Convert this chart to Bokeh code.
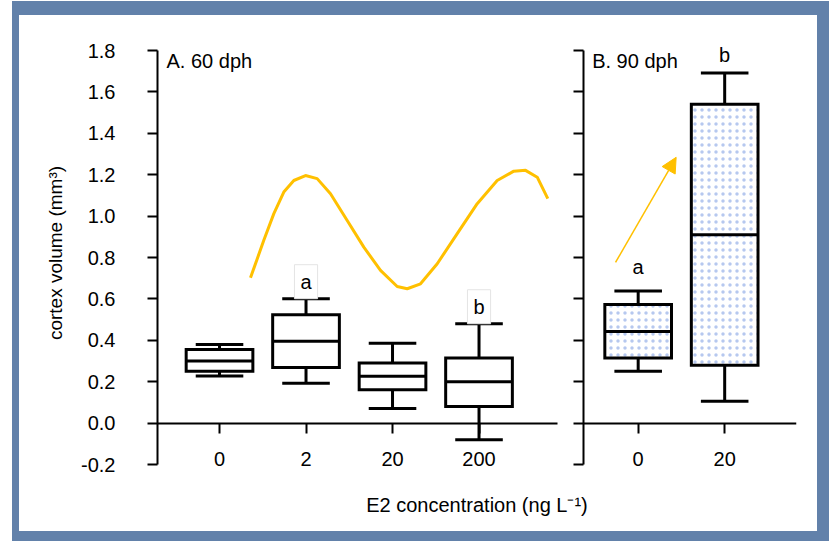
from bokeh.plotting import figure
from bokeh.models import (Range1d, LinearAxis, FixedTicker, PrintfTickFormatter,
                          Label, Arrow, NormalHead)
from bokeh.embed import file_html
from bokeh.resources import INLINE

# ---------------- data ----------------
groups_A = ["0", "2", "20", "200"]
wlo_A = [0.227, 0.193, 0.07, -0.08]
q1_A = [0.25, 0.268, 0.161, 0.08]
med_A = [0.30, 0.395, 0.226, 0.20]
q3_A = [0.355, 0.524, 0.29, 0.314]
whi_A = [0.38, 0.601, 0.386, 0.48]
letters_A = ["", "a", "", "b"]

groups_B = ["0", "20"]
wlo_B = [0.251, 0.105]
q1_B = [0.314, 0.279]
med_B = [0.443, 0.91]
q3_B = [0.573, 1.54]
whi_B = [0.638, 1.691]
letters_B = ["a", "b"]

y_ticks = [-0.2, 0.0, 0.2, 0.4, 0.6, 0.8, 1.0, 1.2, 1.4, 1.6, 1.8]
panel_titles = ["A. 60 dph", "B. 90 dph"]
y_label = "cortex volume (mm³)"
x_label = "E2 concentration (ng L⁻¹)"

# decorative wave (panel A category units, mm3)
wave_x = [1.358, 1.512, 1.628, 1.743, 1.859, 1.994, 2.129, 2.283, 2.476, 2.668,
          2.861, 3.054, 3.170, 3.324, 3.517, 3.748, 3.979, 4.210, 4.402, 4.538,
          4.673, 4.795]
wave_y = [0.702, 0.883, 1.012, 1.116, 1.172, 1.196, 1.181, 1.108, 0.979, 0.850,
          0.738, 0.660, 0.649, 0.673, 0.770, 0.915, 1.060, 1.172, 1.217, 1.221,
          1.188, 1.084]
# decorative arrow (panel B category units, mm3)
arrow_x = [0.738, 1.439]
arrow_y = [0.776, 1.284]

# ---------------- layout ----------------
FONT = "Liberation Sans"
ORANGE = "#FFC000"
FRAME_BLUE = "#6281AA"

B_OFF = 4.84
pos_A = [i + 1 for i in range(len(groups_A))]
pos_B = [round(i + 1 + B_OFF, 2) for i in range(len(groups_B))]
x_start = 0.283
A_end = 4.902
B_axis = round(pos_B[0] - 0.636, 3)

W, H = 798, 516
ML, MR, MT, MB = 138, 21, 16, 57
px_per_unit = 86.5
py_per_unit = 207.0
x_end = x_start + (W - ML - MR) / px_per_unit
y_lo, y_hi = -0.2, 1.8
y_start = y_lo - 10 / py_per_unit
y_end = y_lo + (H - MT - MB) / py_per_unit - 10 / py_per_unit

shadow = ", ".join(f"{ox}px {oy}px 0 7px {FRAME_BLUE}"
                   for ox, oy in [(0, -7), (5, -7), (0, 3), (5, 3)])

p = figure(width=W, height=H, x_axis_type=None, y_axis_type=None,
           x_range=Range1d(x_start, x_end), y_range=Range1d(y_start, y_end),
           toolbar_location=None, output_backend="svg",
           min_border_left=ML, min_border_right=MR, min_border_top=MT, min_border_bottom=MB,
           background_fill_color="white", border_fill_color="white",
           outline_line_color=None,
           styles={"margin-left": "19px", "margin-top": "15px", "box-shadow": shadow})


def style_axis(ax):
    ax.axis_line_width = 2
    ax.axis_line_color = "black"
    ax.major_tick_line_width = 2
    ax.major_tick_line_color = "black"
    ax.major_tick_out = 10
    ax.major_tick_in = 0
    ax.minor_tick_line_color = None
    ax.major_label_text_font = FONT
    ax.major_label_text_font_size = "20px"
    ax.major_label_text_color = "black"
    ax.axis_label_text_font = FONT
    ax.axis_label_text_font_size = "19px"
    ax.axis_label_text_font_style = "normal"
    ax.axis_label_text_color = "black"


yA = LinearAxis(ticker=FixedTicker(ticks=y_ticks), formatter=PrintfTickFormatter(format="%.1f"),
                axis_label=y_label, bounds=(y_lo, y_hi))
style_axis(yA)
yA.major_label_standoff = 32
yA.axis_label_standoff = 12
p.add_layout(yA, "left")

yB = LinearAxis(ticker=FixedTicker(ticks=y_ticks), bounds=(y_lo, y_hi), fixed_location=B_axis)
style_axis(yB)
yB.major_label_text_color = None
p.add_layout(yB, "left")

xA = LinearAxis(ticker=FixedTicker(ticks=pos_A),
                major_label_overrides={k: g for k, g in zip(pos_A, groups_A)},
                fixed_location=0, bounds=(x_start, A_end))
style_axis(xA)
xA.major_label_standoff = 19
p.add_layout(xA, "below")

xB = LinearAxis(ticker=FixedTicker(ticks=pos_B),
                major_label_overrides={k: g for k, g in zip(pos_B, groups_B)},
                fixed_location=0, bounds=(B_axis, x_end))
style_axis(xB)
xB.major_label_standoff = 19
p.add_layout(xB, "below")

# shared x-axis title under both panels
xL = LinearAxis(ticker=FixedTicker(ticks=[]), axis_label=x_label)
style_axis(xL)
xL.axis_label_text_font_size = "20px"
xL.axis_line_color = None
xL.major_tick_line_color = None
xL.major_tick_out = 0
xL.major_label_standoff = 0
xL.axis_label_standoff = 19
p.add_layout(xL, "below")

BOX_W = 0.771
CAP_W = 0.55


def draw_boxes(pos, wlo, q1, med, q3, whi, hatch):
    kw = dict(fill_color="white", line_color="black", line_width=3, line_join="miter")
    if hatch:
        kw.update(hatch_pattern="dot", hatch_color="#3E6FD6", hatch_scale=7,
                  hatch_weight=1.0, hatch_alpha=0.38)
    p.segment(x0=pos, x1=pos, y0=q3, y1=whi, line_color="black", line_width=3)
    p.segment(x0=pos, x1=pos, y0=q1, y1=wlo, line_color="black", line_width=3)
    p.segment(x0=[x - CAP_W / 2 for x in pos], x1=[x + CAP_W / 2 for x in pos],
              y0=whi, y1=whi, line_color="black", line_width=3)
    p.segment(x0=[x - CAP_W / 2 for x in pos], x1=[x + CAP_W / 2 for x in pos],
              y0=wlo, y1=wlo, line_color="black", line_width=3)
    p.vbar(x=pos, width=BOX_W, bottom=q1, top=q3, **kw)
    p.segment(x0=[x - BOX_W / 2 for x in pos], x1=[x + BOX_W / 2 for x in pos],
              y0=med, y1=med, line_color="black", line_width=3)


draw_boxes(pos_A, wlo_A, q1_A, med_A, q3_A, whi_A, False)
draw_boxes(pos_B, wlo_B, q1_B, med_B, q3_B, whi_B, True)

# decorative wave and arrow
p.line(wave_x, wave_y, line_color=ORANGE, line_width=3)
p.add_layout(Arrow(end=NormalHead(size=15, fill_color=ORANGE, line_color=ORANGE),
                   x_start=arrow_x[0] + B_OFF, y_start=arrow_y[0],
                   x_end=arrow_x[1] + B_OFF, y_end=arrow_y[1],
                   line_color=ORANGE, line_width=1.5))

# panel titles
for txt, ax_x in zip(panel_titles, [x_start, B_axis]):
    p.add_layout(Label(x=ax_x, y=y_hi, x_offset=9, y_offset=-10, text=txt,
                       text_font=FONT, text_font_size="20px", text_color="black",
                       text_baseline="middle", text_align="left"))

# significance letters
for x, y, t in zip(pos_A, whi_A, letters_A):
    if t:
        p.add_layout(Label(x=x, y=y, y_offset=17, text=t, text_font=FONT,
                           text_font_size="20px", text_color="black",
                           text_align="center", text_baseline="middle",
                           background_fill_color="white", border_line_color="#E4E4E4",
                           border_line_width=1, padding=6))
for x, y, t, gap in zip(pos_B, whi_B, letters_B, [24, 18]):
    p.add_layout(Label(x=x, y=y, y_offset=gap, text=t, text_font=FONT,
                       text_font_size="20px", text_color="black",
                       text_align="center", text_baseline="middle"))

open("out.html", "w").write(file_html(p, INLINE))
